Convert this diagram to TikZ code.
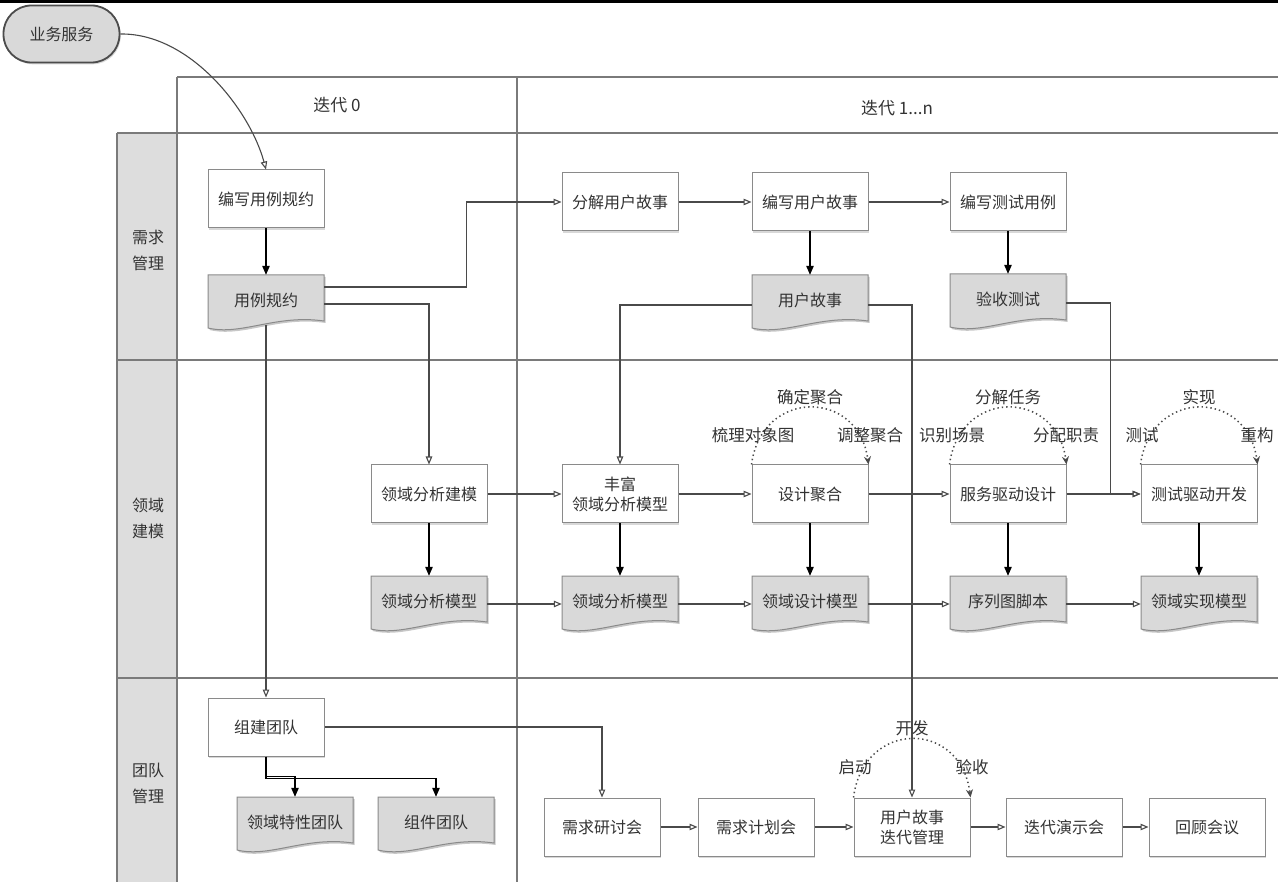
\documentclass[tikz,border=0pt]{standalone}
\usepackage{fontspec}
\setmainfont{Noto Sans CJK SC}
\usetikzlibrary{arrows.meta,shadows,calc}
\definecolor{lc}{HTML}{4A4A4A}
\definecolor{gridc}{HTML}{7A7A7A}
\definecolor{boxc}{HTML}{8A8A8A}
\definecolor{docfill}{HTML}{D9D9D9}
\definecolor{lanefill}{HTML}{DDDDDD}
\definecolor{txt}{HTML}{333333}
\tikzset{
 proc/.style={rectangle, draw=boxc, line width=1pt, fill=white, minimum width=116, minimum height=58, inner sep=2pt, align=center, font=\fontsize{16}{20}\selectfont, text=txt, drop shadow={shadow xshift=1.2pt, shadow yshift=-1.8pt, opacity=0.3}},
 docshape/.style={draw=boxc, line width=1pt, fill=docfill},
 docnd/.style={rectangle, minimum width=116, minimum height=50, inner sep=0pt, align=center, font=\fontsize{16}{20}\selectfont, text=txt},
 pill/.style={rectangle, rounded corners=28pt, draw=gray!60!black, line width=1.8pt, fill=docfill, minimum width=116, minimum height=57, font=\fontsize{16}{20}\selectfont, text=txt, drop shadow={shadow xshift=1.2pt, shadow yshift=-1.8pt, opacity=0.3}},
 oa/.style={draw=lc, line width=1.1pt, -{Triangle[open, length=8pt, width=6.5pt]}},
 fa/.style={draw=black, line width=1.1pt, -{Triangle[length=9pt, width=7.5pt]}},
 loopa/.style={draw=lc, line width=1.5pt, dash pattern=on 1.4pt off 3pt, -{Stealth[length=8pt, width=7pt]}},
 lab/.style={font=\fontsize{16.5}{19}\selectfont, text=txt},
 gridl/.style={draw=gridc, line width=1.6pt},
 lanel/.style={align=center, font=\fontsize{16}{26}\selectfont, text=txt},
}
\newcommand{\mydoc}[4]{%
 \fill[black,opacity=0.22] ({#2-58+1.5},{#3-27+2}) -- ({#2+58+1.5},{#3-27+2}) -- ({#2+58+1.5},{#3+19+2}) .. controls ({#2+10+1.5},{#3+12+2}) and ({#2-25+1.5},{#3+34+2}) .. ({#2-58+1.5},{#3+26+2}) -- cycle;
 \draw[docshape] ({#2-58},{#3-27}) -- ({#2+58},{#3-27}) -- ({#2+58},{#3+19}) .. controls ({#2+10},{#3+12}) and ({#2-25},{#3+34}) .. ({#2-58},{#3+26}) -- cycle;
 \node[docnd] (#1) at (#2,{#3-2}) {#4};
}
\begin{document}
\begin{tikzpicture}[x=1pt,y=-1pt]
\useasboundingbox (0,0) rectangle (1278,882);
\fill[white] (0,0) rectangle (1278,882);
% top line
\draw[black, line width=3pt] (0,1.5) -- (1278,1.5);
% grid
\fill[lanefill] (117,133) rectangle (177,882);
\draw[gridl] (177,77) -- (1278,77);
\draw[gridl] (177,77) -- (177,882);
\draw[gridl] (517,77) -- (517,882);
\draw[gridl] (117,133) -- (1278,133);
\draw[gridl] (117,133) -- (117,882);
\draw[gridl] (117,360) -- (1278,360);
\draw[gridl] (117,678) -- (1278,678);
\node[lab, font=\fontsize{17}{20}\selectfont] (h0) at (337,105) {迭代 0};
\node[lab, font=\fontsize{17}{20}\selectfont] (h1) at (897,108) {迭代 1...n};
\node[lanel] (l1) at (148,250) {需求\\管理};
\node[lanel] (l2) at (148,518) {领域\\建模};
\node[lanel] (l3) at (148,783) {团队\\管理};
% start pill
\node[pill] (bs) at (61.5,34) {业务服务};
% process boxes
\node[proc] (k1) at (266,199) {编写用例规约};
\node[proc] (k2) at (620,202) {分解用户故事};
\node[proc] (k3) at (810,202) {编写用户故事};
\node[proc] (k4) at (1008,202) {编写测试用例};
\node[proc] (m1) at (429,494) {领域分析建模};
\node[proc] (m2) at (620,494) {丰富\\领域分析模型};
\node[proc] (m3) at (810,494) {设计聚合};
\node[proc] (m4) at (1008,494) {服务驱动设计};
\node[proc] (m5) at (1199,494) {测试驱动开发};
\node[proc] (t1) at (266,727) {组建团队};
\node[proc] (t2) at (602,827) {需求研讨会};
\node[proc] (t3) at (756,827) {需求计划会};
\node[proc] (t4) at (912,827) {用户故事\\迭代管理};
\node[proc] (t5) at (1064,827) {迭代演示会};
\node[proc] (t6) at (1207,827) {回顾会议};
% documents
\mydoc{d1}{266}{302}{用例规约}
\mydoc{d2}{810}{302}{用户故事}
\mydoc{d3}{1008}{301}{验收测试}
\mydoc{e1}{429}{603}{领域分析模型}
\mydoc{e2}{620}{603}{领域分析模型}
\mydoc{e3}{810}{603}{领域设计模型}
\mydoc{e4}{1008}{603}{序列图脚本}
\mydoc{e5}{1199}{603}{领域实现模型}
\mydoc{tt1}{295}{824}{领域特性团队}
\mydoc{tt2}{436}{824}{组件团队}
% connectors
\draw[oa] (bs.east) .. controls (190,33) and (250,110) .. (k1.north);
\draw[fa] (k1) -- (d1);
\draw[oa] ([yshift=13pt]d1.east) -- ++(142,0) |- (k2.west);
\draw[oa] ([yshift=-4pt]d1.east) -| (m1.north);
\draw[oa] (d1.south) -- (t1.north);
\draw[oa] (k2) -- (k3);
\draw[oa] (k3) -- (k4);
\draw[fa] (k3) -- (d2);
\draw[fa] (k4) -- (d3);
\draw[oa] ([yshift=-5pt]d2.west) -| (m2.north);
\draw[oa] ([yshift=-5pt]d2.east) -| (t4.north);
\draw[oa] ([yshift=-4pt]d3.east) -- ++(44,0) |- (m5.west);
\draw[oa] (m1) -- (m2);
\draw[oa] (m2) -- (m3);
\draw[oa] (m3) -- (m4);
\draw[oa] (m4) -- (m5);
\draw[fa] (m1) -- (e1);
\draw[fa] (m2) -- (e2);
\draw[fa] (m3) -- (e3);
\draw[fa] (m4) -- (e4);
\draw[fa] (m5) -- (e5);
\draw[oa] ([yshift=-3pt]e1.east) -- ([yshift=-3pt]e2.west);
\draw[oa] ([yshift=-3pt]e2.east) -- ([yshift=-3pt]e3.west);
\draw[oa] ([yshift=-3pt]e3.east) -- ([yshift=-3pt]e4.west);
\draw[oa] ([yshift=-3pt]e4.east) -- ([yshift=-3pt]e5.west);
\draw[fa] (t1.south) -- ++(0,20) -| (tt1.north);
\draw[fa] (t1.south) -- ++(0,22) -| (tt2.north);
\draw[oa] (t1.east) -| (t2.north);
\draw[oa] (t2) -- (t3);
\draw[oa] (t3) -- (t4);
\draw[oa] (t4) -- (t5);
\draw[oa] (t5) -- (t6);
% loops
\draw[loopa] (m3.north west) .. controls ($(m3.north west)+(10,-76)$) and ($(m3.north east)+(-10,-76)$) .. (m3.north east);
\draw[loopa] (m4.north west) .. controls ($(m4.north west)+(10,-76)$) and ($(m4.north east)+(-10,-76)$) .. (m4.north east);
\draw[loopa] (m5.north west) .. controls ($(m5.north west)+(10,-76)$) and ($(m5.north east)+(-10,-76)$) .. (m5.north east);
\draw[loopa] (t4.north west) .. controls ($(t4.north west)+(10,-78)$) and ($(t4.north east)+(-10,-78)$) .. (t4.north east);
\node[lab] (a1) at (810,397) {确定聚合};
\node[lab] (a2) at (753,435) {梳理对象图};
\node[lab] (a3) at (870,435) {调整聚合};
\node[lab] (b1) at (1008,397) {分解任务};
\node[lab] (b2) at (952,435) {识别场景};
\node[lab] (b3) at (1066,435) {分配职责};
\node[lab] (c1) at (1199,397) {实现};
\node[lab] (c2) at (1142,435) {测试};
\node[lab] (c3) at (1257,435) {重构};
\node[lab] (g1) at (912,728) {开发};
\node[lab] (g2) at (855,767) {启动};
\node[lab] (g3) at (972,767) {验收};
\end{tikzpicture}
\end{document}
